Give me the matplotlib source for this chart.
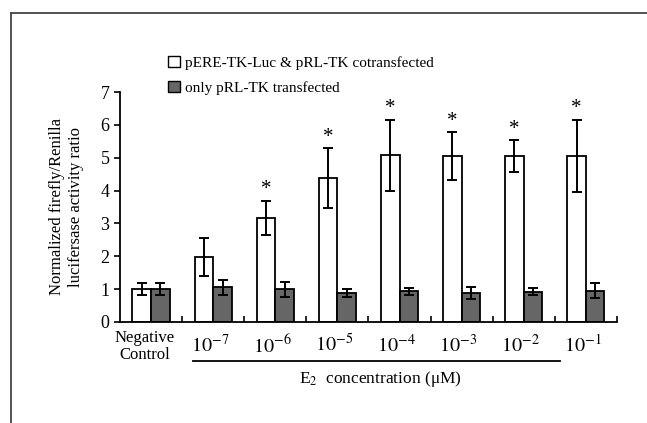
import numpy as np
import matplotlib.pyplot as plt
from matplotlib.lines import Line2D
from matplotlib.patches import Patch

plt.rcParams['font.family'] = ['Liberation Serif', 'DejaVu Serif']
plt.rcParams['mathtext.fontset'] = 'stix'

# data
groups = ['Negative\nControl', '$10^{-7}$', '$10^{-6}$', '$10^{-5}$', '$10^{-4}$',
          '$10^{-3}$', '$10^{-2}$', '$10^{-1}$']
cotrans = [1.0, 1.98, 3.16, 4.38, 5.08, 5.05, 5.05, 5.05]
cotrans_err = [0.18, 0.58, 0.52, 0.91, 1.08, 0.72, 0.48, 1.10]
only_rl = [1.0, 1.06, 0.99, 0.88, 0.93, 0.88, 0.92, 0.95]
only_rl_err = [0.18, 0.23, 0.22, 0.11, 0.11, 0.17, 0.10, 0.23]
signif = [False, False, True, True, True, True, True, True]

fig = plt.figure(figsize=(6.47, 4.23), dpi=100)
ax = fig.add_axes([0.1855, 0.2388, 0.768, 0.5437])

x = np.arange(len(groups))
w = 0.3
ekw = dict(elinewidth=1.4, capthick=1.4, ecolor='black')
ax.bar(x - w/2, cotrans, w, color='white', edgecolor='black', linewidth=1.3,
       yerr=cotrans_err, capsize=3.5, error_kw=ekw)
ax.bar(x + w/2, only_rl, w, color='#666666', edgecolor='black', linewidth=1.3,
       yerr=only_rl_err, capsize=3.5, error_kw=ekw)

for xi, v, e, s in zip(x, cotrans, cotrans_err, signif):
    if s:
        ax.text(xi - w/2, v + e + 0.05, '*', ha='center', va='bottom', fontsize=15)

ax.set_xlim(-0.5, len(groups) - 0.5)
ax.set_ylim(0, 7)
ax.set_yticks(range(8))
ax.tick_params(axis='y', labelsize=13, length=4, width=1.2, direction='out')
ax.set_xticks(x)
ax.set_xticklabels([])
ax.tick_params(axis='x', which='major', length=0)
ax.set_xticks(np.arange(0.5, len(groups), 1.0), minor=True)
ax.tick_params(axis='x', which='minor', length=4, width=1.2, direction='in')
for s in ['top', 'right']:
    ax.spines[s].set_visible(False)
for s in ['left', 'bottom']:
    ax.spines[s].set_linewidth(1.3)

trans = ax.get_xaxis_transform()
ax.text(x[0] - 0.1, -0.035, groups[0], transform=trans, ha='center', va='top',
        fontsize=12, linespacing=1.1)
for xi, g in zip(x[1:], groups[1:]):
    ax.text(xi - 0.05, -0.055, g, transform=trans, ha='center', va='top', fontsize=14.5)

ax.plot([0.675, 6.585], [-0.17, -0.17], transform=trans, color='black',
        linewidth=1.3, clip_on=False)
ax.text(3.7, -0.25, 'E$_2$  concentration (μM)', transform=trans,
        ha='center', va='center', fontsize=12.5)

ax.set_ylabel('Normalized firefly/Renilla\nlucifersase activity ratio', fontsize=12,
              linespacing=1.25, labelpad=12)

handles = [Patch(facecolor='white', edgecolor='black', linewidth=1.0),
           Patch(facecolor='#666666', edgecolor='black', linewidth=1.0)]
fig.legend(handles, ['pERE-TK-Luc & pRL-TK cotransfected', 'only pRL-TK transfected'],
           loc='upper left', bbox_to_anchor=(0.248, 0.885), frameon=False,
           fontsize=11, handlelength=0.75, handleheight=0.75, handletextpad=0.35,
           labelspacing=0.7, borderpad=0)

# partial frame around the panel
fig.add_artist(Line2D([0.0165, 0.0165], [0.0, 0.969], color='#444444', linewidth=1.3))
fig.add_artist(Line2D([0.0165, 1.0], [0.969, 0.969], color='#444444', linewidth=1.3))

fig.savefig('out.png', dpi=100)
